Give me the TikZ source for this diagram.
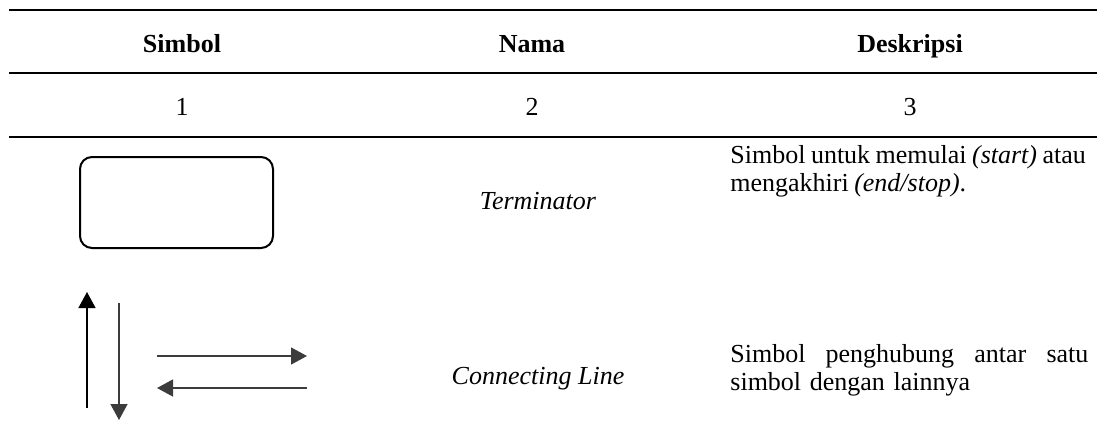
\documentclass[tikz,border=0pt]{standalone}
\usepackage{fontspec}
\setmainfont{Liberation Serif}
\usetikzlibrary{arrows.meta,positioning,shapes}
\definecolor{rulegray}{HTML}{000000}
\definecolor{arrowgray}{HTML}{3C3C3C}
\tikzset{
  hdr/.style={anchor=base, inner sep=0pt, font=\fontsize{13}{15}\selectfont\bfseries},
  cell/.style={anchor=base, inner sep=0pt, font=\fontsize{13}{15}\selectfont},
  desc/.style={anchor=base west, inner sep=0pt, text width=179pt, align=left,
    font=\fontsize{13}{14}\selectfont},
  conn/.style={-{Triangle[length=8pt,width=8.5pt]}, line width=0.65pt},
}

\begin{document}
\begin{tikzpicture}[x=0.5pt, y=-0.5pt]
\useasboundingbox (0,0) rectangle (1097,425);

% table rules
\draw[rulegray, line width=1pt] (9,10) -- (1097,10);
\draw[rulegray, line width=1pt] (9,73) -- (1097,73);
\draw[rulegray, line width=1pt] (9,137) -- (1097,137);

\node[hdr] (hsimbol) at (182,52) {Simbol};
\node[hdr] (hnama) at (532,52) {Nama};
\node[hdr] (hdesk) at (910,52) {Deskripsi};
\node[cell] (n1) at (182,115) {1};
\node[cell] (n2) at (532,115) {2};
\node[cell] (n3) at (910,115) {3};

% terminator row
\node[draw, line width=1pt, rounded corners=6pt, minimum width=96.5pt, minimum height=45.5pt]
  (term) at (176.5,202.5) {};
\node[cell] (tname) at (538,209) {\itshape Terminator};
\node[desc, text width=200pt] (tdesc) at (730,163)
  {\spaceskip=0.21em\relax Simbol untuk memulai \textit{(start)} atau\\mengakhiri \textit{(end/stop)}.};

% connecting line row
\coordinate (up1) at (87,408);
\coordinate (up2) at (87,292);
\coordinate (dn1) at (119,303);
\coordinate (dn2) at (119,420);
\coordinate (rt1) at (157,356);
\coordinate (rt2) at (307,356);
\coordinate (lt1) at (307,388);
\coordinate (lt2) at (157,388);
\draw[conn, black] (up1) -- (up2);
\draw[conn, arrowgray] (dn1) -- (dn2);
\draw[conn, arrowgray] (rt1) -- (rt2);
\draw[conn, arrowgray] (lt1) -- (lt2);
\node[cell] (cname) at (538,384) {\itshape Connecting Line};
\node[desc] (cdesc) at (730,362)
  {Simbol\hfill penghubung\hfill antar\hfill satu\\simbol dengan lainnya};

\end{tikzpicture}
\end{document}
